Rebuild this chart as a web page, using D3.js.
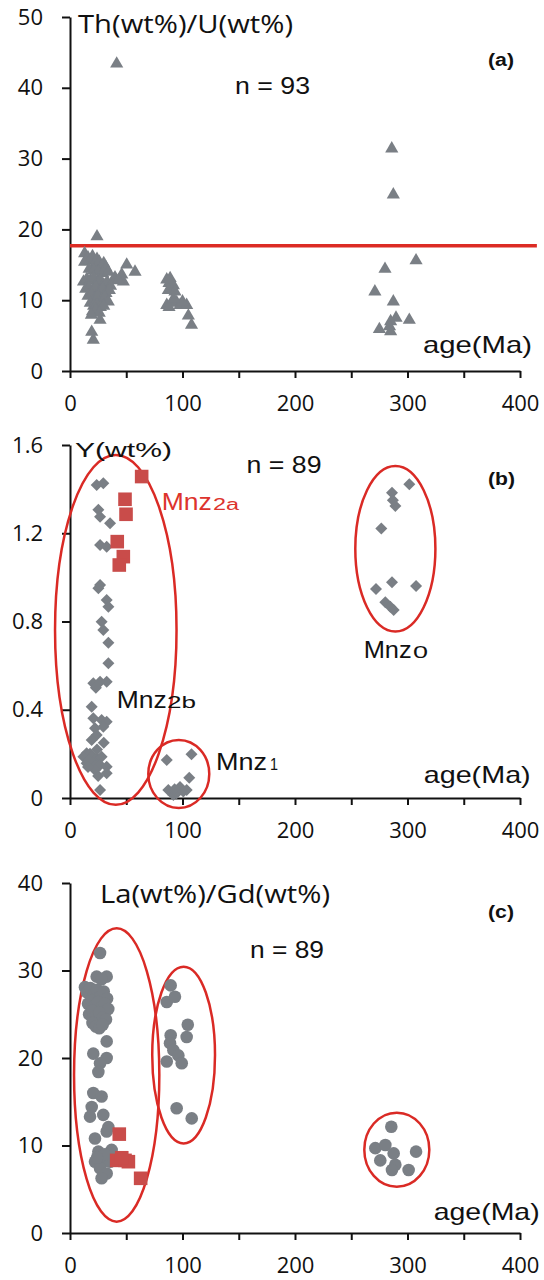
<!DOCTYPE html>
<html>
<head>
<meta charset="utf-8">
<script src="https://cdn.jsdelivr.net/npm/d3@7"></script>
<style>
  html, body { margin: 0; padding: 0; background: #fff; }
</style>
</head>
<body>
<div id="chart"></div>
<script>
// ---- data (age in Ma) ----
const xTicks = [0, 50, 100, 150, 200, 250, 300, 350, 400];
const thuTicks = [0, 10, 20, 30, 40, 50];
const yTicks = [0, 0.4, 0.8, 1.2, 1.6];
const laGdTicks = [0, 10, 20, 30, 40];
const thuLimit = 17.7;

// (a) Th/U vs age, all grains
const thU = [
  [41.5, 43.4], [24, 19.0],
  [13, 16.6], [13, 15.4], [16, 16.0], [18, 15.6], [20, 16.2], [22, 15.0], [24, 15.8], [26, 15.4],
  [28, 14.8], [30, 15.2], [32, 14.6], [17, 14.4], [21, 14.2], [25, 14.0], [29, 13.8], [34, 14.0],
  [50.4, 15.0], [57.8, 14.0], [46, 13.6], [47.4, 12.6], [40, 13.2], [38.5, 12.9], [43, 12.8],
  [12, 12.6], [15, 13.0], [18, 12.8], [21, 13.2], [24, 12.4], [27, 12.8], [30, 12.2], [33, 12.6],
  [36, 12.0], [14, 11.6], [17, 11.8], [20, 11.4], [23, 11.8], [26, 11.2], [29, 11.6], [32, 11.0],
  [35, 11.4], [16, 10.6], [19, 10.8], [22, 10.2], [25, 10.6], [28, 10.0], [31, 10.4], [34, 9.8],
  [18, 9.6], [21, 9.2], [24, 9.4], [27, 9.0], [30, 9.2], [20, 8.4], [23, 8.6], [26, 8.2],
  [19, 7.9], [26.7, 7.2], [19.3, 5.5], [20.7, 4.4],
  [86, 12.9], [88, 12.4], [91.9, 12.1], [87.4, 11.4], [93.3, 11.2], [89, 13.1], [86, 9.3], [90.4, 9.6],
  [94.8, 9.7], [97.8, 9.3], [103.7, 9.3], [105.2, 7.8], [108, 6.5], [88, 9.0], [100, 9.8], [92, 10.2],
  [286, 31.4], [287.4, 24.9], [307.6, 15.6], [280, 14.4], [271, 11.2], [287.4, 9.8],
  [289.8, 7.5], [301.6, 7.2], [285, 7.0], [275, 5.9], [285, 5.6], [284, 6.3]
];

// (b) Y vs age
const yMnz2b = [
  [23.7, 1.419], [29.6, 1.427], [25.2, 1.306], [26.7, 1.275], [35.6, 1.245], [26.7, 1.147], [32.6, 1.139],
  [25.2, 0.951], [26.7, 0.966], [32.6, 0.898], [34.1, 0.867], [28.1, 0.799], [29.6, 0.762], [34.1, 0.704],
  [34.1, 0.611], [20.7, 0.520], [26.7, 0.527], [32.6, 0.527], [23, 0.50], [19.3, 0.414], [20.7, 0.361],
  [28.1, 0.354], [32.6, 0.346], [22.2, 0.316], [29.6, 0.323], [23.7, 0.286], [19.3, 0.263], [14.8, 0.203],
  [17.8, 0.20], [19.3, 0.187], [23.7, 0.18], [28.1, 0.187], [11.9, 0.187], [14.8, 0.157], [20.7, 0.157],
  [26.7, 0.150], [32.6, 0.142], [22.2, 0.127], [32.6, 0.112], [26.7, 0.036], [17, 0.17], [24, 0.22],
  [30, 0.25], [16, 0.14], [25, 0.10]
];
const yMnz1 = [
  [86, 0.172], [108, 0.198], [106, 0.092], [87.4, 0.036], [91.9, 0.014], [94.8, 0.021],
  [97.8, 0.05], [100.7, 0.029], [103.7, 0.036], [93, 0.04]
];
const yMnz0 = [
  [301.6, 1.422], [286.2, 1.384], [289.2, 1.324], [287, 1.35], [276.7, 1.221], [272, 0.947],
  [286.2, 0.978], [307.6, 0.961], [280.3, 0.887], [284.7, 0.867], [287.7, 0.852]
];
const yMnz2a = [[63.7, 1.457], [48.9, 1.354], [49.8, 1.286], [42, 1.162], [47.4, 1.094], [43.8, 1.056]];

// (c) La/Gd vs age
const laGdMnz2b = [
  [26.7, 32.0], [13.3, 28.1], [23.7, 29.3], [32.6, 29.3], [28, 29.0], [15, 27.5], [18, 28.0], [21, 27.2],
  [24, 27.8], [27, 27.0], [30, 27.6], [33, 26.8], [16, 26.2], [19, 26.6], [22, 26.0], [25, 26.4],
  [28, 25.8], [31, 26.2], [34, 25.6], [17, 25.0], [20, 25.4], [23, 24.8], [26, 25.2], [29, 24.6],
  [32, 24.4], [20, 24.0], [23, 23.6], [26, 23.4], [29, 23.8], [32.6, 21.9], [20.7, 20.5], [32.6, 20.0],
  [26.7, 19.4], [25.2, 18.4], [20.7, 16.0], [28.1, 15.6], [19.3, 14.4], [17.8, 13.3], [29.6, 13.5],
  [34.1, 12.1], [32.6, 11.6], [22.2, 10.8], [25.2, 9.3], [37, 9.5], [22.2, 8.15], [29.6, 8.3],
  [35.6, 8.15], [26.7, 7.4], [32.6, 6.8], [28.1, 6.25], [27, 8.8], [31, 9.0], [24, 8.6]
];
const laGdMnz1 = [
  [89.5, 28.3], [86, 26.4], [93.3, 27.0], [89.5, 22.6], [104.7, 23.8], [103.7, 22.4], [88.9, 21.7],
  [91.9, 20.9], [86, 19.6], [96.3, 20.3], [99.3, 19.4], [94.8, 14.25], [108.2, 13.1]
];
const laGdMnz0 = [
  [285.6, 12.15], [271.4, 9.7], [280.3, 10.06], [307.6, 9.3], [287.7, 9.1], [275.8, 8.3],
  [289.2, 7.8], [286.2, 7.2], [301, 7.2]
];
const laGdMnz2a = [[43.8, 11.3], [41.5, 8.3], [48.9, 8.3], [51.9, 8.15], [62.8, 6.25], [46, 8.6]];

// group outlines: [centre age, centre value, half-width (Ma), half-height (value)]
const yGroups = [[40.7, 0.762, 54, 0.793], [96.7, 0.109, 27.1, 0.154], [289.2, 1.13, 35.6, 0.375]];
const laGdGroups = [[41.5, 18.06, 37.9, 16.76], [101, 20.34, 27.9, 10.1], [290.5, 9.52, 28.9, 4.23]];

// ---- drawing ----
const gray = "#7a7f85";
const red = "#da2a25";
const sqRed = "#c94c4a";

const svg = d3.select("#chart")
    .append("svg")
    .attr("width", 544)
    .attr("height", 1280);

const x = d3.scaleLinear().domain([0, 400]).range([70, 520]);

// text stretched to the width seen in the figure
function label(g, str, px, py, size, width, opt = {}) {
    return g.append("text")
        .attr("x", px)
        .attr("y", py)
        .attr("textLength", width)
        .attr("lengthAdjust", "spacingAndGlyphs")
        .style("font-family", opt.family || "'Liberation Sans', Arial, sans-serif")
        .style("font-size", `${size}px`)
        .style("font-weight", opt.bold ? "bold" : "normal")
        .style("fill", opt.fill || "#111")
        .text(str);
}

function panel(top, bottom, domain, ticks, fmt) {
    const y = d3.scaleLinear().domain(domain).range([bottom, top]);
    const g = svg.append("g");

    const xAxis = g.append("g")
        .attr("transform", `translate(0,${bottom})`)
        .call(d3.axisBottom(x).tickValues(xTicks).tickSize(7).tickSizeOuter(0)
            .tickFormat(d => d % 100 === 0 ? d : ""));
    xAxis.selectAll("text")
        .attr("y", 40)
        .attr("dy", null)
        .style("font-family", "'Open Sans', sans-serif")
        .style("font-size", "22px")
        .style("fill", "#111");

    const yAxis = g.append("g")
        .attr("transform", "translate(70,0)")
        .call(d3.axisLeft(y).tickValues(ticks).tickSize(8).tickPadding(19).tickSizeOuter(0)
            .tickFormat(fmt));
    yAxis.selectAll("text")
        .style("font-family", "'Open Sans', sans-serif")
        .style("font-size", "22px")
        .style("fill", "#111");

    g.selectAll(".domain, .tick line")
        .attr("stroke", "#111")
        .attr("stroke-width", 2);

    return { g, y };
}

function ellipses(p, groups) {
    p.g.selectAll(".grp")
        .data(groups)
        .join("ellipse")
        .attr("cx", d => x(d[0]))
        .attr("cy", d => p.y(d[1]))
        .attr("rx", d => x(d[0] + d[2]) - x(d[0]))
        .attr("ry", d => p.y(d[1] - d[3]) - p.y(d[1]))
        .attr("fill", "none")
        .attr("stroke", red)
        .attr("stroke-width", 2.5);
}

function marks(p, data, type, size, fill, rot = 0) {
    const sym = d3.symbol().type(type).size(size);
    p.g.append("g")
        .selectAll("path")
        .data(data)
        .join("path")
        .attr("d", sym)
        .attr("transform", d => `translate(${x(d[0])},${p.y(d[1])}) rotate(${rot})`)
        .attr("fill", fill);
}

// (a)
const pa = panel(17, 371, [0, 50], thuTicks, d => d);
pa.g.append("line")
    .attr("x1", x(0))
    .attr("x2", x(415))
    .attr("y1", pa.y(thuLimit))
    .attr("y2", pa.y(thuLimit))
    .attr("stroke", "#dc2b24")
    .attr("stroke-width", 3.5);
marks(pa, thU, d3.symbolTriangle, 75, gray);
label(pa.g, "Th(wt%)/U(wt%)", 78, 33, 25, 215, { family: "'Open Sans', sans-serif" });
label(pa.g, "n = 93", 235, 94, 24, 75);
label(pa.g, "(a)", 488, 66, 18, 26, { bold: true });
label(pa.g, "age(Ma)", 423, 353, 24, 109);

// (b)
const pb = panel(445, 798, [0, 1.6], yTicks, d => d === 0 ? "0" : d.toFixed(1));
ellipses(pb, yGroups);
marks(pb, yMnz2b, d3.symbolSquare, 72, gray, 45);
marks(pb, yMnz1, d3.symbolSquare, 72, gray, 45);
marks(pb, yMnz0, d3.symbolSquare, 72, gray, 45);
marks(pb, yMnz2a, d3.symbolSquare, 185, sqRed);
label(pb.g, "Y(wt%)", 75, 457, 21, 97);
label(pb.g, "n = 89", 246.5, 473, 24, 75);
label(pb.g, "(b)", 488, 485, 18, 27, { bold: true });
label(pb.g, "Mnz", 161.7, 510, 24, 50, { fill: "#dd332d" });
label(pb.g, "2a", 213, 510, 16, 26, { fill: "#dd332d" });
label(pb.g, "Mnz", 116.7, 708, 24, 50);
label(pb.g, "2b", 167, 708, 16, 29);
label(pb.g, "Mnz", 216, 770, 24, 51);
label(pb.g, "1", 270, 770, 16, 8);
label(pb.g, "Mnz", 363.7, 658, 24, 48);
label(pb.g, "0", 413, 658, 16, 15);
label(pb.g, "age(Ma)", 423.7, 783, 24, 107);

// (c)
const pc = panel(883, 1233, [0, 40], laGdTicks, d => d);
ellipses(pc, laGdGroups);
pc.g.append("g")
    .selectAll("circle")
    .data(laGdMnz2b.concat(laGdMnz1, laGdMnz0))
    .join("circle")
    .attr("cx", d => x(d[0]))
    .attr("cy", d => pc.y(d[1]))
    .attr("r", 6.3)
    .attr("fill", gray);
marks(pc, laGdMnz2a, d3.symbolSquare, 185, sqRed);
label(pc.g, "La(wt%)/Gd(wt%)", 100, 903, 25, 230, { family: "'Open Sans', sans-serif" });
label(pc.g, "n = 89", 250, 958, 24, 74);
label(pc.g, "(c)", 488, 918, 18, 26, { bold: true });
label(pc.g, "age(Ma)", 433.7, 1220, 24, 106);
</script>
</body>
</html>
